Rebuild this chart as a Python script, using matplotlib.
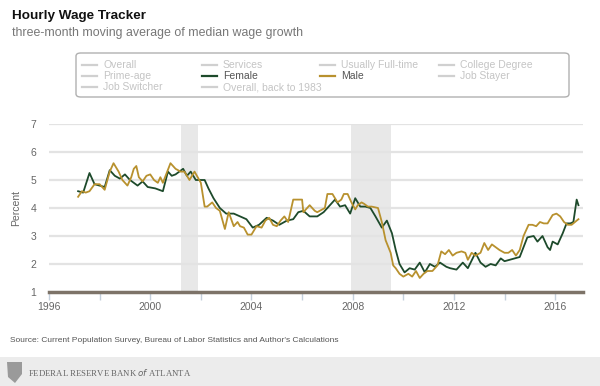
import matplotlib.pyplot as plt
from matplotlib.patches import FancyBboxPatch, Rectangle, Polygon
from matplotlib.lines import Line2D

# Female series (decimal year, percent)
female_t = [1997.15, 1997.35, 1997.6, 1997.8, 1998.0, 1998.2, 1998.4, 1998.6, 1998.8,
            1999.0, 1999.2, 1999.5, 1999.7, 1999.9, 2000.2, 2000.5, 2000.7, 2000.85,
            2001.0, 2001.15, 2001.3, 2001.45, 2001.6, 2001.8, 2002.0, 2002.15, 2002.3,
            2002.5, 2002.75, 2003.0, 2003.3, 2003.55, 2003.8, 2004.05, 2004.3, 2004.6,
            2004.85, 2005.1, 2005.4, 2005.65, 2005.85, 2006.05, 2006.3, 2006.6, 2006.85,
            2007.1, 2007.3, 2007.5, 2007.7, 2007.9, 2008.1, 2008.3, 2008.5, 2008.7,
            2008.9, 2009.15, 2009.35, 2009.55, 2009.7, 2009.85, 2010.05, 2010.25, 2010.45,
            2010.65, 2010.85, 2011.05, 2011.25, 2011.45, 2011.7, 2011.85, 2012.1, 2012.35,
            2012.55, 2012.85, 2013.05, 2013.25, 2013.45, 2013.65, 2013.85, 2014.0, 2014.2,
            2014.4, 2014.6, 2014.75, 2014.9, 2015.15, 2015.3, 2015.5, 2015.7, 2015.8,
            2015.9, 2016.1, 2016.2, 2016.3, 2016.45, 2016.6, 2016.72, 2016.85, 2016.92]
female_v = [4.6, 4.55, 5.25, 4.85, 4.8, 4.75, 5.35, 5.15, 5.05,
            5.2, 5.0, 4.8, 4.95, 4.75, 4.7, 4.6, 5.3, 5.15,
            5.2, 5.3, 5.4, 5.15, 5.3, 5.0, 5.0, 5.0, 4.7,
            4.35, 4.0, 3.8, 3.8, 3.7, 3.6, 3.3, 3.4, 3.65,
            3.55, 3.4, 3.55, 3.6, 3.85, 3.9, 3.7, 3.7, 3.85,
            4.1, 4.3, 4.05, 4.1, 3.8, 4.35, 4.05, 4.05, 4.0,
            3.7, 3.3, 3.55, 3.1, 2.5, 2.0, 1.7, 1.85, 1.8,
            2.05, 1.7, 2.0, 1.9, 2.05, 1.9, 1.85, 1.8, 2.05,
            1.85, 2.4, 2.05, 1.9, 2.0, 1.95, 2.2, 2.1, 2.15,
            2.2, 2.25, 2.6, 2.95, 3.0, 2.8, 3.0, 2.6, 2.5,
            2.8, 2.7, 2.9, 3.1, 3.45, 3.45, 3.5, 4.3, 4.1]

# Male series (decimal year, percent)
male_t = [1997.15, 1997.3, 1997.45, 1997.6, 1997.8, 1998.0, 1998.2, 1998.4, 1998.55,
          1998.75, 1998.9, 1999.1, 1999.25, 1999.35, 1999.45, 1999.55, 1999.7, 1999.85,
          2000.0, 2000.15, 2000.3, 2000.4, 2000.5, 2000.65, 2000.8, 2001.0, 2001.2,
          2001.35, 2001.55, 2001.75, 2002.0, 2002.15, 2002.25, 2002.45, 2002.6, 2002.75,
          2002.95, 2003.1, 2003.3, 2003.45, 2003.55, 2003.7, 2003.85, 2004.0, 2004.2,
          2004.4, 2004.55, 2004.7, 2004.85, 2005.0, 2005.15, 2005.3, 2005.45, 2005.65,
          2005.8, 2006.0, 2006.05, 2006.3, 2006.5, 2006.6, 2006.7, 2006.9, 2007.0,
          2007.2, 2007.4, 2007.55, 2007.65, 2007.8, 2007.95, 2008.1, 2008.2, 2008.35,
          2008.45, 2008.6, 2008.75, 2009.0, 2009.15, 2009.3, 2009.5, 2009.6, 2009.7,
          2009.85, 2010.0, 2010.2, 2010.35, 2010.5, 2010.65, 2010.8, 2010.95, 2011.15,
          2011.35, 2011.5, 2011.65, 2011.8, 2011.95, 2012.1, 2012.3, 2012.45, 2012.55,
          2012.7, 2012.85, 2013.05, 2013.2, 2013.35, 2013.5, 2013.65, 2013.8, 2014.0,
          2014.15, 2014.3, 2014.45, 2014.6, 2014.75, 2014.95, 2015.1, 2015.25, 2015.4,
          2015.55, 2015.7, 2015.9, 2016.05, 2016.2, 2016.35, 2016.5, 2016.65, 2016.85,
          2016.92]
male_v = [4.4, 4.6, 4.55, 4.6, 4.85, 4.85, 4.65, 5.3, 5.6,
          5.3, 5.0, 4.8, 5.1, 5.4, 5.5, 5.1, 4.95, 5.15,
          5.2, 5.0, 4.9, 5.1, 4.9, 5.25, 5.6, 5.4, 5.3,
          5.3, 5.0, 5.3, 4.9, 4.05, 4.05, 4.2, 4.0, 3.9,
          3.25, 3.85, 3.35, 3.5, 3.35, 3.3, 3.05, 3.05, 3.35,
          3.3, 3.55, 3.65, 3.4, 3.35, 3.55, 3.7, 3.5, 4.3,
          4.3, 4.3, 3.85, 4.1, 3.9, 3.85, 3.9, 4.0, 4.5,
          4.5, 4.2, 4.3, 4.5, 4.5, 4.2, 3.95, 4.1, 4.2,
          4.15, 4.05, 4.05, 4.0, 3.5, 2.85, 2.4, 1.95, 1.85,
          1.65, 1.55, 1.65, 1.55, 1.75, 1.5, 1.65, 1.75, 1.75,
          1.95, 2.45, 2.35, 2.5, 2.3, 2.4, 2.45, 2.4, 2.15,
          2.4, 2.3, 2.4, 2.75, 2.5, 2.7, 2.6, 2.5, 2.4,
          2.4, 2.5, 2.3, 2.5, 3.0, 3.4, 3.4, 3.35, 3.5,
          3.45, 3.45, 3.75, 3.8, 3.7, 3.5, 3.4, 3.4, 3.55,
          3.6]

recessions = [(2001.2, 2001.88), (2007.92, 2009.5)]
legend_rows = [["Overall", "Services", "Usually Full-time", "College Degree"],
               ["Prime-age", "Female", "Male", "Job Stayer"],
               ["Job Switcher", "Overall, back to 1983", None, None]]
active = {"Female": "#1d4a2b", "Male": "#b8912e"}

fig = plt.figure(figsize=(6, 3.86), dpi=100)
plt.rcParams['font.family'] = ['Liberation Sans', 'DejaVu Sans']

ax = fig.add_axes([49 / 600, 1 - 292 / 386, 534 / 600, 168 / 386])
for a, b in recessions:
    ax.axvspan(a, b, color='#e8e8e8', lw=0, zorder=0)
for yv in range(2, 8):
    ax.axhline(yv, color='#e3e3e3', lw=1.6, zorder=1)

ax.plot(female_t, female_v, color=active["Female"], lw=1.3, zorder=3)
ax.plot(male_t, male_v, color=active["Male"], lw=1.3, zorder=3)

ax.set_xlim(1996, 2017.1)
ax.set_ylim(1, 7)
for s in ax.spines.values():
    s.set_visible(False)
ax.axhline(1, color='#7d7368', lw=2.5, zorder=4, clip_on=False)

ax.set_xticks(range(1996, 2017, 4))
ax.set_xticks(range(1998, 2017, 4), minor=True)
ax.tick_params(axis='x', which='both', length=6, width=1, color='#c5d0dc',
               labelsize=7.5, labelcolor='#666666', pad=1)
ax.set_yticks(range(1, 8))
ax.tick_params(axis='y', length=0, labelsize=7.5, labelcolor='#666666', pad=9)
ax.set_ylabel('Percent', fontsize=7.5, color='#666666', labelpad=7)

# titles
fig.text(12 / 600, 1 - 16 / 386, 'Hourly Wage Tracker', fontsize=9.7, fontweight='bold',
         color='#111111', va='center')
fig.text(12 / 600, 1 - 33 / 386, 'three-month moving average of median wage growth',
         fontsize=8.9, color='#777777', va='center')

# legend box
box = FancyBboxPatch((76 / 600, 1 - 97 / 386), 493 / 600, 44 / 386,
                     boxstyle='round,pad=0,rounding_size=0.008', transform=fig.transFigure,
                     fc='white', ec='#b0b0b0', lw=1)
fig.patches.append(box)
col_x = [82, 202, 320, 439]
row_y = [65, 76, 87]
for r, row in enumerate(legend_rows):
    for c, name in enumerate(row):
        if name is None:
            continue
        x0 = col_x[c] / 600
        y0 = 1 - row_y[r] / 386
        lc = active.get(name, '#d0d0d0')
        tc = '#555555' if name in active else '#c4c4c4'
        fig.add_artist(Line2D([x0, x0 + 15 / 600], [y0, y0], color=lc, lw=1.6,
                              transform=fig.transFigure))
        fig.text(x0 + 21 / 600, y0, name, fontsize=7.5, color=tc, va='center')

fig.text(10 / 600, 1 - 341 / 386,
         "Source: Current Population Survey, Bureau of Labor Statistics and Author's Calculations",
         fontsize=6.0, color='#555555', va='center')

# footer band
fig.patches.append(Rectangle((0, 0), 1, 29 / 386, transform=fig.transFigure,
                             fc='#ececec', ec='none'))
fig.patches.append(Polygon([(7 / 600, 1 - 362 / 386), (22 / 600, 1 - 362 / 386),
                            (22 / 600, 1 - 374 / 386), (15 / 600, 1 - 383 / 386),
                            (8 / 600, 1 - 377 / 386)], closed=True,
                           transform=fig.transFigure, fc='#9a9a9a', ec='none'))
fig.text(28 / 600, 1 - 372 / 386, 'FEDERAL RESERVE BANK $\\it{of}$ ATLANTA',
         fontsize=6.3, color='#666666', va='center', family='Liberation Serif')

fig.savefig('out.png', dpi=100)
